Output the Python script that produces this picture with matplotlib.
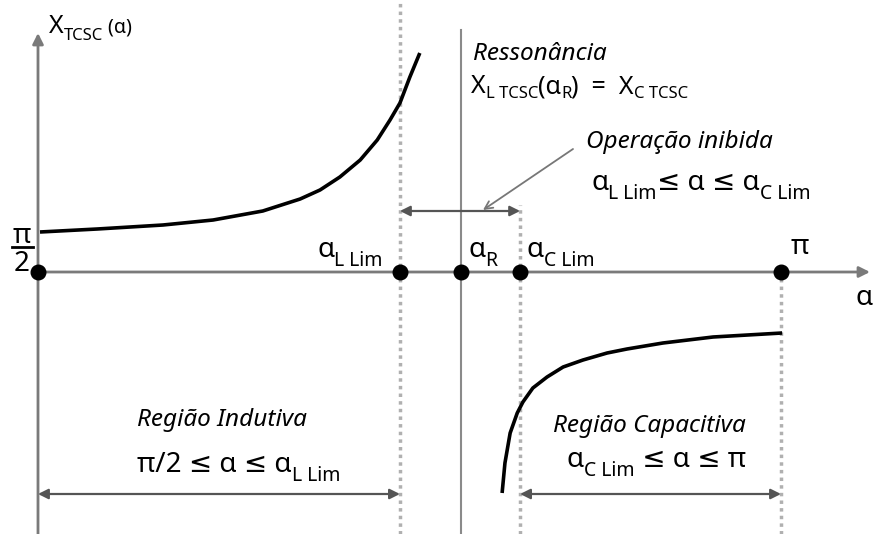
import numpy as np
import matplotlib
matplotlib.use('Agg')
import matplotlib.pyplot as plt

plt.rcParams['font.family'] = ['Noto Sans', 'DejaVu Sans']

PI = np.pi

# key firing angles (rad): pi/2, alpha_L_lim, alpha_R, alpha_C_lim, pi
alpha_keys = [PI / 2, 2.336, 2.465, 2.590, PI]
a_half, a_L, a_R, a_C, a_pi = alpha_keys

# inductive branch of X_TCSC(alpha) (arbitrary units)
ind_alpha = [1.575, 1.696, 1.835, 1.941, 2.046, 2.125, 2.167, 2.209,
             2.252, 2.288, 2.315, 2.336, 2.357, 2.378]
ind_x = [0.40, 0.43, 0.47, 0.52, 0.61, 0.73, 0.82, 0.95,
         1.12, 1.32, 1.52, 1.69, 1.95, 2.19]

# capacitive branch
cap_alpha = [2.552, 2.558, 2.569, 2.584, 2.596, 2.617, 2.647, 2.681,
             2.723, 2.774, 2.816, 2.892, 2.998, 3.144]
cap_x = [-2.21, -1.91, -1.61, -1.41, -1.30, -1.16, -1.05, -0.95,
         -0.88, -0.81, -0.77, -0.71, -0.65, -0.61]

fig = plt.figure(figsize=(8.74, 5.34), dpi=100)
ax = fig.add_axes([0, 0, 1, 1])
x0, x1 = PI / 2 - 38 / 473, PI / 2 + 836 / 473
y0, y1 = -2.62, 2.72
ax.set_xlim(x0, x1)
ax.set_ylim(y0, y1)
ax.axis('off')
renderer = fig.canvas.get_renderer()


def px(x, y):
    # pixel position -> data position
    return PI / 2 + (x - 38) / 473, (272 - y) / 100


def rich(x, y, parts, **kw):
    # pieces of text with their own size and drop (pixels), laid side by side
    dx = 0
    for s, size, dy in parts:
        t = ax.annotate(s, xy=px(x, y), xytext=(dx, -dy), textcoords='offset pixels',
                        fontsize=size, va='baseline', **kw)
        dx += t.get_window_extent(renderer).width


axis_col = '#7a7a7a'
dot_col = '#b0b0b0'

# axes with arrows
ax.annotate('', xy=px(870, 272), xytext=(a_half, 0),
            arrowprops=dict(arrowstyle='-|>', color=axis_col, lw=2,
                            mutation_scale=16, shrinkA=0, shrinkB=0))
ax.annotate('', xy=px(38, 33), xytext=(a_half, y0),
            arrowprops=dict(arrowstyle='-|>', color=axis_col, lw=2,
                            mutation_scale=16, shrinkA=0, shrinkB=0))

# resonance line
ax.plot([a_R, a_R], [y0, px(0, 30)[1]], color='#8a8a8a', lw=1.5)

# limit lines (dotted)
ax.plot([a_L, a_L], [y0, y1], color=dot_col, lw=2.5, ls=(0, (1, 1.2)))
ax.plot([a_C, a_C], [y0, px(0, 205)[1]], color=dot_col, lw=2.5, ls=(0, (1, 1.2)))
ax.plot([a_pi, a_pi], [y0, 0], color=dot_col, lw=2.5, ls=(0, (1, 1.2)))

# curves
ax.plot(ind_alpha, ind_x, color='black', lw=2.6, solid_capstyle='butt',
        solid_joinstyle='round')
ax.plot(cap_alpha, cap_x, color='black', lw=2.6, solid_capstyle='butt',
        solid_joinstyle='round')

# key points
ax.scatter(alpha_keys, [0] * len(alpha_keys), s=110, color='black', zorder=5)

# double arrows
arr = dict(arrowstyle='<|-|>', color='#555555', lw=1.6, mutation_scale=15,
           shrinkA=0, shrinkB=0)
y_inib = px(0, 211)[1]
ax.annotate('', xy=(a_L, y_inib), xytext=(a_C, y_inib), arrowprops=arr)
y_reg = px(0, 494)[1]
ax.annotate('', xy=(a_half, y_reg), xytext=(a_L, y_reg), arrowprops=arr)
ax.annotate('', xy=(a_C, y_reg), xytext=(a_pi, y_reg), arrowprops=arr)

# pointer
ax.annotate('', xy=px(483, 210), xytext=px(573, 149),
            arrowprops=dict(arrowstyle='->', color='#777777', lw=1.3,
                            mutation_scale=14, shrinkA=0, shrinkB=0))

# texts
B, S, D = 20, 14, 9
lbl = 17.5
rich(49, 33, [('X', 18, 0), ('TCSC', 12, 7), (' (α)', 14, -1)])

ax.text(*px(473, 60), 'Ressonância', fontsize=lbl, style='italic', va='baseline')
rich(471, 93, [('X', 18, 0), ('L TCSC', 12, 5), ('(α', 18, 0), ('R', 12, 5),
               (')  =  X', 18, 0), ('C TCSC', 12, 5)])

ax.text(*px(586, 148), 'Operação inibida', fontsize=lbl, style='italic', va='baseline')
rich(591, 190, [('α', B, 0), ('L Lim', S, D), ('≤ α ≤ α', B, 0), ('C Lim', S, D)])

ax.text(*px(22, 243), 'π', fontsize=B, ha='center', va='baseline')
ax.plot([px(12, 0)[0], px(33, 0)[0]], [px(0, 247)[1]] * 2, color='black', lw=2)
ax.text(*px(22, 271), '2', fontsize=B, ha='center', va='baseline')

rich(317, 257, [('α', B, 0), ('L Lim', S, D)])
rich(468, 257, [('α', B, 0), ('R', S, D)])
rich(527, 257, [('α', B, 0), ('C Lim', S, D)])
ax.text(*px(791, 254), 'π', fontsize=B, va='baseline')
ax.text(*px(856, 305), 'α', fontsize=B, va='baseline')

ax.text(*px(137, 426), 'Região Indutiva', fontsize=lbl, style='italic', va='baseline')
rich(137, 472, [('π/2 ≤ α ≤ α', B, 0), ('L Lim', S, D)])

ax.text(*px(553, 432), 'Região Capacitiva', fontsize=lbl, style='italic', va='baseline')
rich(567, 467, [('α', B, 0), ('C Lim', S, D), (' ≤ α ≤ π', B, 0)])

fig.savefig('out.png', dpi=100)
